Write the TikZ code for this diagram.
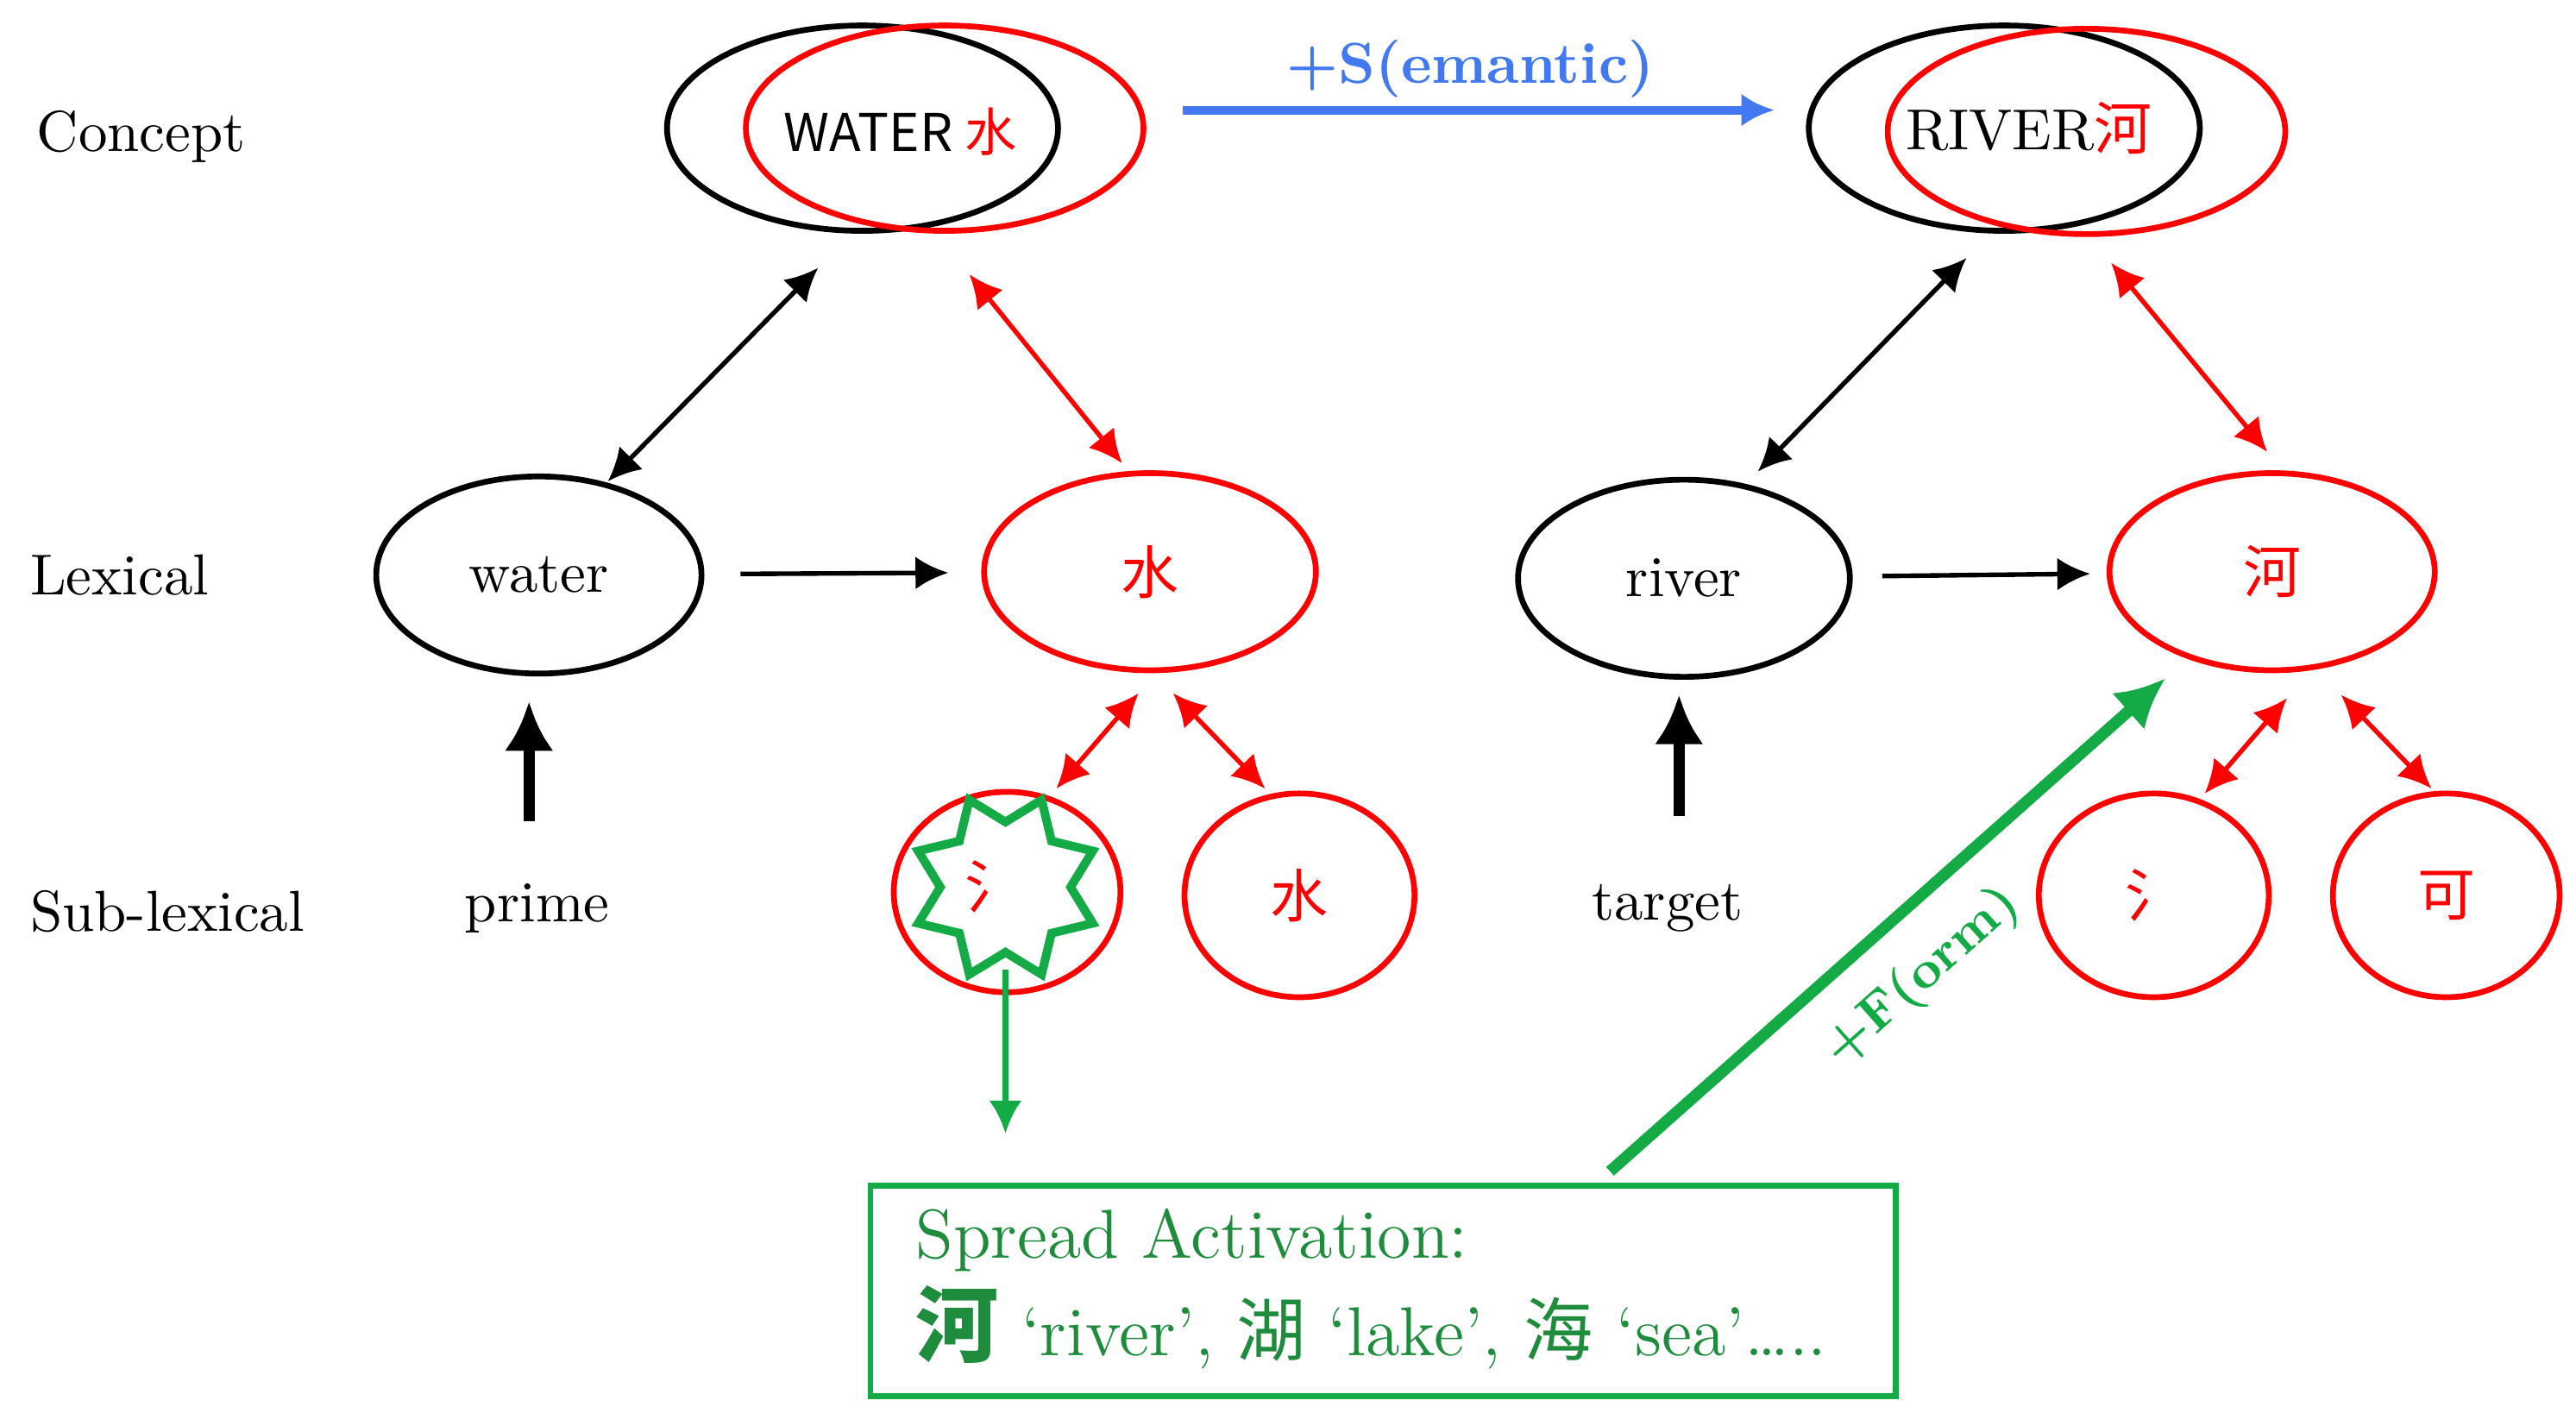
\documentclass[tikz,border=0pt]{standalone}
\usepackage{fontspec}
\newfontfamily\cjk{Noto Sans CJK SC}
\usetikzlibrary{positioning,arrows.meta,shapes.geometric}
\tikzset{>={Latex[width=2mm,length=2mm]}}
\definecolor{myblue}{RGB}{66,120,240}
\definecolor{mygreen}{RGB}{20,170,70}
\definecolor{boxgreen}{RGB}{30,140,60}
\tikzset{
  bigell/.style={ellipse, draw, line width=1pt, minimum width=2.38cm, minimum height=1.25cm, inner sep=0pt},
  lexell/.style={ellipse, draw, line width=1pt, minimum width=1.98cm, minimum height=1.2cm, inner sep=0pt},
  subell/.style={ellipse, draw=red, line width=1pt, minimum width=1.38cm, minimum height=1.22cm, inner sep=0pt, text=red},
  dbl/.style={<->, line width=0.8pt},
  lvl/.style={anchor=west}
}
\begin{document}
\begin{tikzpicture}[x=1cm,y=-1cm]
			\useasboundingbox (0,0) rectangle (15.68,8.596);
			% level names
			\node[lvl] (lconcept) at (0.1,0.83) {Concept};
			\node[lvl] (llexical) at (0.06,3.5) {Lexical};
			\node[lvl] (lsub) at (0.06,5.55) {Sub-lexical};
			% concept level
			\node[bigell] (cwater) at (5.25,0.78) {};
			\node[bigell, draw=red, minimum width=2.42cm] (cwaterr) at (5.75,0.78) {};
			\node[font=\small] (twater) at (5.48,0.8) {\cjk WATER \textcolor{red}{水}};
			\node[bigell] (criver) at (12.2,0.78) {};
			\node[bigell, draw=red, minimum width=2.42cm] (criverr) at (12.7,0.8) {};
			\node (triver) at (12.35,0.78) {RIVER\textcolor{red}{\cjk 河}};
			\draw[->, myblue, line width=1.5pt] (7.2,0.67) coordinate (sa) -- (10.8,0.67) coordinate (sb);
			\node[myblue, font=\bfseries] (slabel) at (8.95,0.42) {+S(emantic)};
			% lexical level
			\node[lexell] (water) at (3.28,3.5) {water};
			\node[lexell, draw=red, minimum width=2.02cm, text=red] (shui) at (7.0,3.48) {\cjk 水};
			\node[lexell, minimum width=2.02cm] (river) at (10.25,3.52) {river};
			\node[lexell, draw=red, text=red] (he) at (13.83,3.48) {\cjk 河};
			\draw[->, line width=0.8pt] (water) -- (shui) [shorten <=0.22cm, shorten >=0.2cm];
			\draw[->, line width=0.8pt, shorten <=0.18cm, shorten >=0.1cm] (river) -- (he);
			\coordinate (a1) at (3.7,2.93); \coordinate (a2) at (4.98,1.63);
			\coordinate (a3) at (5.9,1.67); \coordinate (a4) at (6.83,2.82);
			\coordinate (a5) at (10.7,2.87); \coordinate (a6) at (11.97,1.57);
			\coordinate (a7) at (12.85,1.6); \coordinate (a8) at (13.8,2.75);
			\draw[dbl] (a1) -- (a2);
			\draw[dbl, red] (a3) -- (a4);
			\draw[dbl] (a5) -- (a6);
			\draw[dbl, red] (a7) -- (a8);
			% sub-lexical level
			\node (prime) at (3.27,5.53) {prime};
			\node (target) at (10.15,5.53) {target};
			\draw[-{Latex[width=3mm,length=3mm]}, line width=2pt] (3.22,5.0) coordinate (p0) -- (3.22,4.27);
			\draw[-{Latex[width=3mm,length=3mm]}, line width=2pt] (10.22,4.97) coordinate (t0) -- (10.22,4.23);
			\node[subell] (rad1) at (6.13,5.43) {};
			\node[star, star points=8, star point ratio=1.45, draw=mygreen, line width=1.5pt, minimum size=1.15cm, inner sep=0pt, rotate=22.5] (burst) at (6.12,5.4) {};
			\node[text=red] (rad1t) at (6.05,5.4) {\cjk 氵};
			\node[subell, minimum width=1.4cm, minimum height=1.24cm] (shui2) at (7.91,5.45) {\cjk 水};
			\node[subell, minimum width=1.4cm, minimum height=1.24cm] (rad2) at (13.11,5.45) {\cjk 氵};
			\node[subell, minimum height=1.24cm] (ke) at (14.89,5.45) {\cjk 可};
			\coordinate (b1) at (6.43,4.8); \coordinate (b2) at (6.93,4.22);
			\coordinate (b3) at (7.14,4.22); \coordinate (b4) at (7.7,4.8);
			\coordinate (b5) at (13.42,4.83); \coordinate (b6) at (13.92,4.25);
			\coordinate (b7) at (14.25,4.23); \coordinate (b8) at (14.8,4.8);
			\draw[dbl, red] (b1) -- (b2);
			\draw[dbl, red] (b3) -- (b4);
			\draw[dbl, red] (b5) -- (b6);
			\draw[dbl, red] (b7) -- (b8);
			% spread activation
			\node[draw=mygreen, line width=1pt, minimum width=6.24cm, minimum height=1.28cm, anchor=north west] (spread) at (5.28,7.2) {};
			\node[anchor=west, boxgreen, font=\large] (sp1) at (5.45,7.55) {Spread Activation:};
			\node[anchor=west, boxgreen, font=\large] (sp2) at (5.45,8.08) {{\cjk\Large\bfseries 河} ‘river’, {\cjk 湖} ‘lake’, {\cjk 海} ‘sea’…..};
			\coordinate (g0) at (6.12,5.9);
			\draw[->, mygreen, line width=1pt] (g0) -- (6.12,6.9);
			\coordinate (f0) at (9.8,7.13); \coordinate (f1) at (13.18,4.13);
			\draw[-{Latex[width=3mm,length=3mm]}, mygreen, line width=2pt] (f0) -- (f1);
			\node[mygreen, font=\small\bfseries, rotate=41.6] (flabel) at (11.7,5.95) {+F(orm)};
	\end{tikzpicture}
\end{document}
